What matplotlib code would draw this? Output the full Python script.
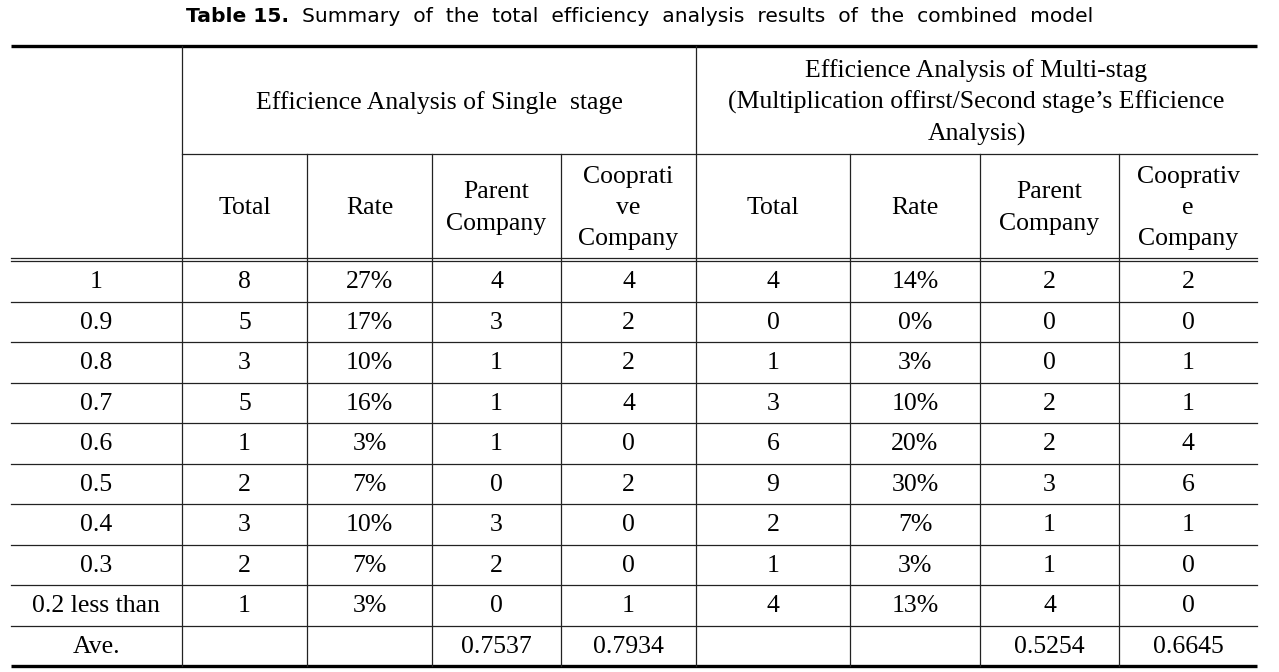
import matplotlib
matplotlib.use("Agg")
import matplotlib.pyplot as plt

# ---- data ----
row_labels = ['1', '0.9', '0.8', '0.7', '0.6', '0.5', '0.4', '0.3', '0.2 less than', 'Ave.']
single_total = ['8', '5', '3', '5', '1', '2', '3', '2', '1', '']
single_rate = ['27%', '17%', '10%', '16%', '3%', '7%', '10%', '7%', '3%', '']
single_parent = ['4', '3', '1', '1', '1', '0', '3', '2', '0', '0.7537']
single_coop = ['4', '2', '2', '4', '0', '2', '0', '0', '1', '0.7934']
multi_total = ['4', '0', '1', '3', '6', '9', '2', '1', '4', '']
multi_rate = ['14%', '0%', '3%', '10%', '20%', '30%', '7%', '3%', '13%', '']
multi_parent = ['2', '0', '0', '2', '2', '3', '1', '1', '4', '0.5254']
multi_coop = ['2', '0', '1', '1', '4', '6', '1', '0', '0', '0.6645']

group_single = ['Efficience Analysis of Single  stage']
group_multi = ['Efficience Analysis of Multi-stag',
               '(Multiplication offirst/Second stage\u2019s Efficience',
               'Analysis)']
sub_headers = [['Total'], ['Rate'], ['Parent', 'Company'], ['Cooprati', 've', 'Company'],
               ['Total'], ['Rate'], ['Parent', 'Company'], ['Cooprativ', 'e', 'Company']]
title_bold = 'Table 15.'
title_rest = '  Summary  of  the  total  efficiency  analysis  results  of  the  combined  model'

# ---- layout (pixels) ----
W, H = 1279, 672
fig = plt.figure(figsize=(W / 100, H / 100), dpi=100)
ax = fig.add_axes([0, 0, 1, 1])
ax.set_xlim(0, W)
ax.set_ylim(H, 0)
ax.axis('off')

x_edges = [11, 182, 307, 432, 561, 696, 850, 980, 1119, 1257]
y_top = 46
y_head_mid = 154
y_dbl = (257.5, 261)
row_h = (666 - 261) / 10
y_rows = [261 + i * row_h for i in range(11)]
y_bot = 666

serif = 'Liberation Serif'
fs = 18.5
lc = '#222222'
thin = 0.9

# thick top / bottom
ax.plot([x_edges[0], x_edges[-1]], [y_top, y_top], color='black', lw=2.4, solid_capstyle='butt')
ax.plot([x_edges[0], x_edges[-1]], [y_bot, y_bot], color='black', lw=2.4, solid_capstyle='butt')
# header mid line
ax.plot([x_edges[1], x_edges[-1]], [y_head_mid, y_head_mid], color=lc, lw=thin)
# double line
for yy in y_dbl:
    ax.plot([x_edges[0], x_edges[-1]], [yy, yy], color=lc, lw=thin)
# row lines
for yy in y_rows[1:-1]:
    ax.plot([x_edges[0], x_edges[-1]], [yy, yy], color=lc, lw=thin)
# vertical lines
for i, xx in enumerate(x_edges[1:-1], start=1):
    y0 = y_top if i in (1, 5) else y_head_mid
    ax.plot([xx, xx], [y0, y_bot], color=lc, lw=thin)

# header texts
ax.text((x_edges[1] + x_edges[5]) / 2, 103, group_single[0], ha='center', va='center',
        family=serif, fontsize=fs)
for k, line in enumerate(group_multi):
    ax.text((x_edges[5] + x_edges[9]) / 2, 71 + k * 31.5, line, ha='center', va='center',
            family=serif, fontsize=fs)
for c, lines in enumerate(sub_headers):
    xc = (x_edges[c + 1] + x_edges[c + 2]) / 2
    n = len(lines)
    for k, line in enumerate(lines):
        yy = 208 + (k - (n - 1) / 2) * 31.5
        ax.text(xc, yy, line, ha='center', va='center', family=serif, fontsize=fs)

# body
cols = [row_labels, single_total, single_rate, single_parent, single_coop,
        multi_total, multi_rate, multi_parent, multi_coop]
for c, col in enumerate(cols):
    xc = (x_edges[c] + x_edges[c + 1]) / 2
    for r, val in enumerate(col):
        yc = (y_rows[r] + y_rows[r + 1]) / 2 + 1
        ax.text(xc, yc, val, ha='center', va='center', family=serif, fontsize=fs)

# title
fig.canvas.draw()
r = fig.canvas.get_renderer()
tsize = 14.6
t1 = ax.text(0, 17, title_bold, ha='left', va='center', family='DejaVu Sans',
             fontsize=tsize, fontweight='bold')
t2 = ax.text(0, 17, title_rest, ha='left', va='center', family='DejaVu Sans',
             fontsize=tsize)
w1 = t1.get_window_extent(r).width
w2 = t2.get_window_extent(r).width
x0 = 640 - (w1 + w2) / 2
t1.set_x(x0)
t2.set_x(x0 + w1)

fig.savefig('out.png', dpi=100)
